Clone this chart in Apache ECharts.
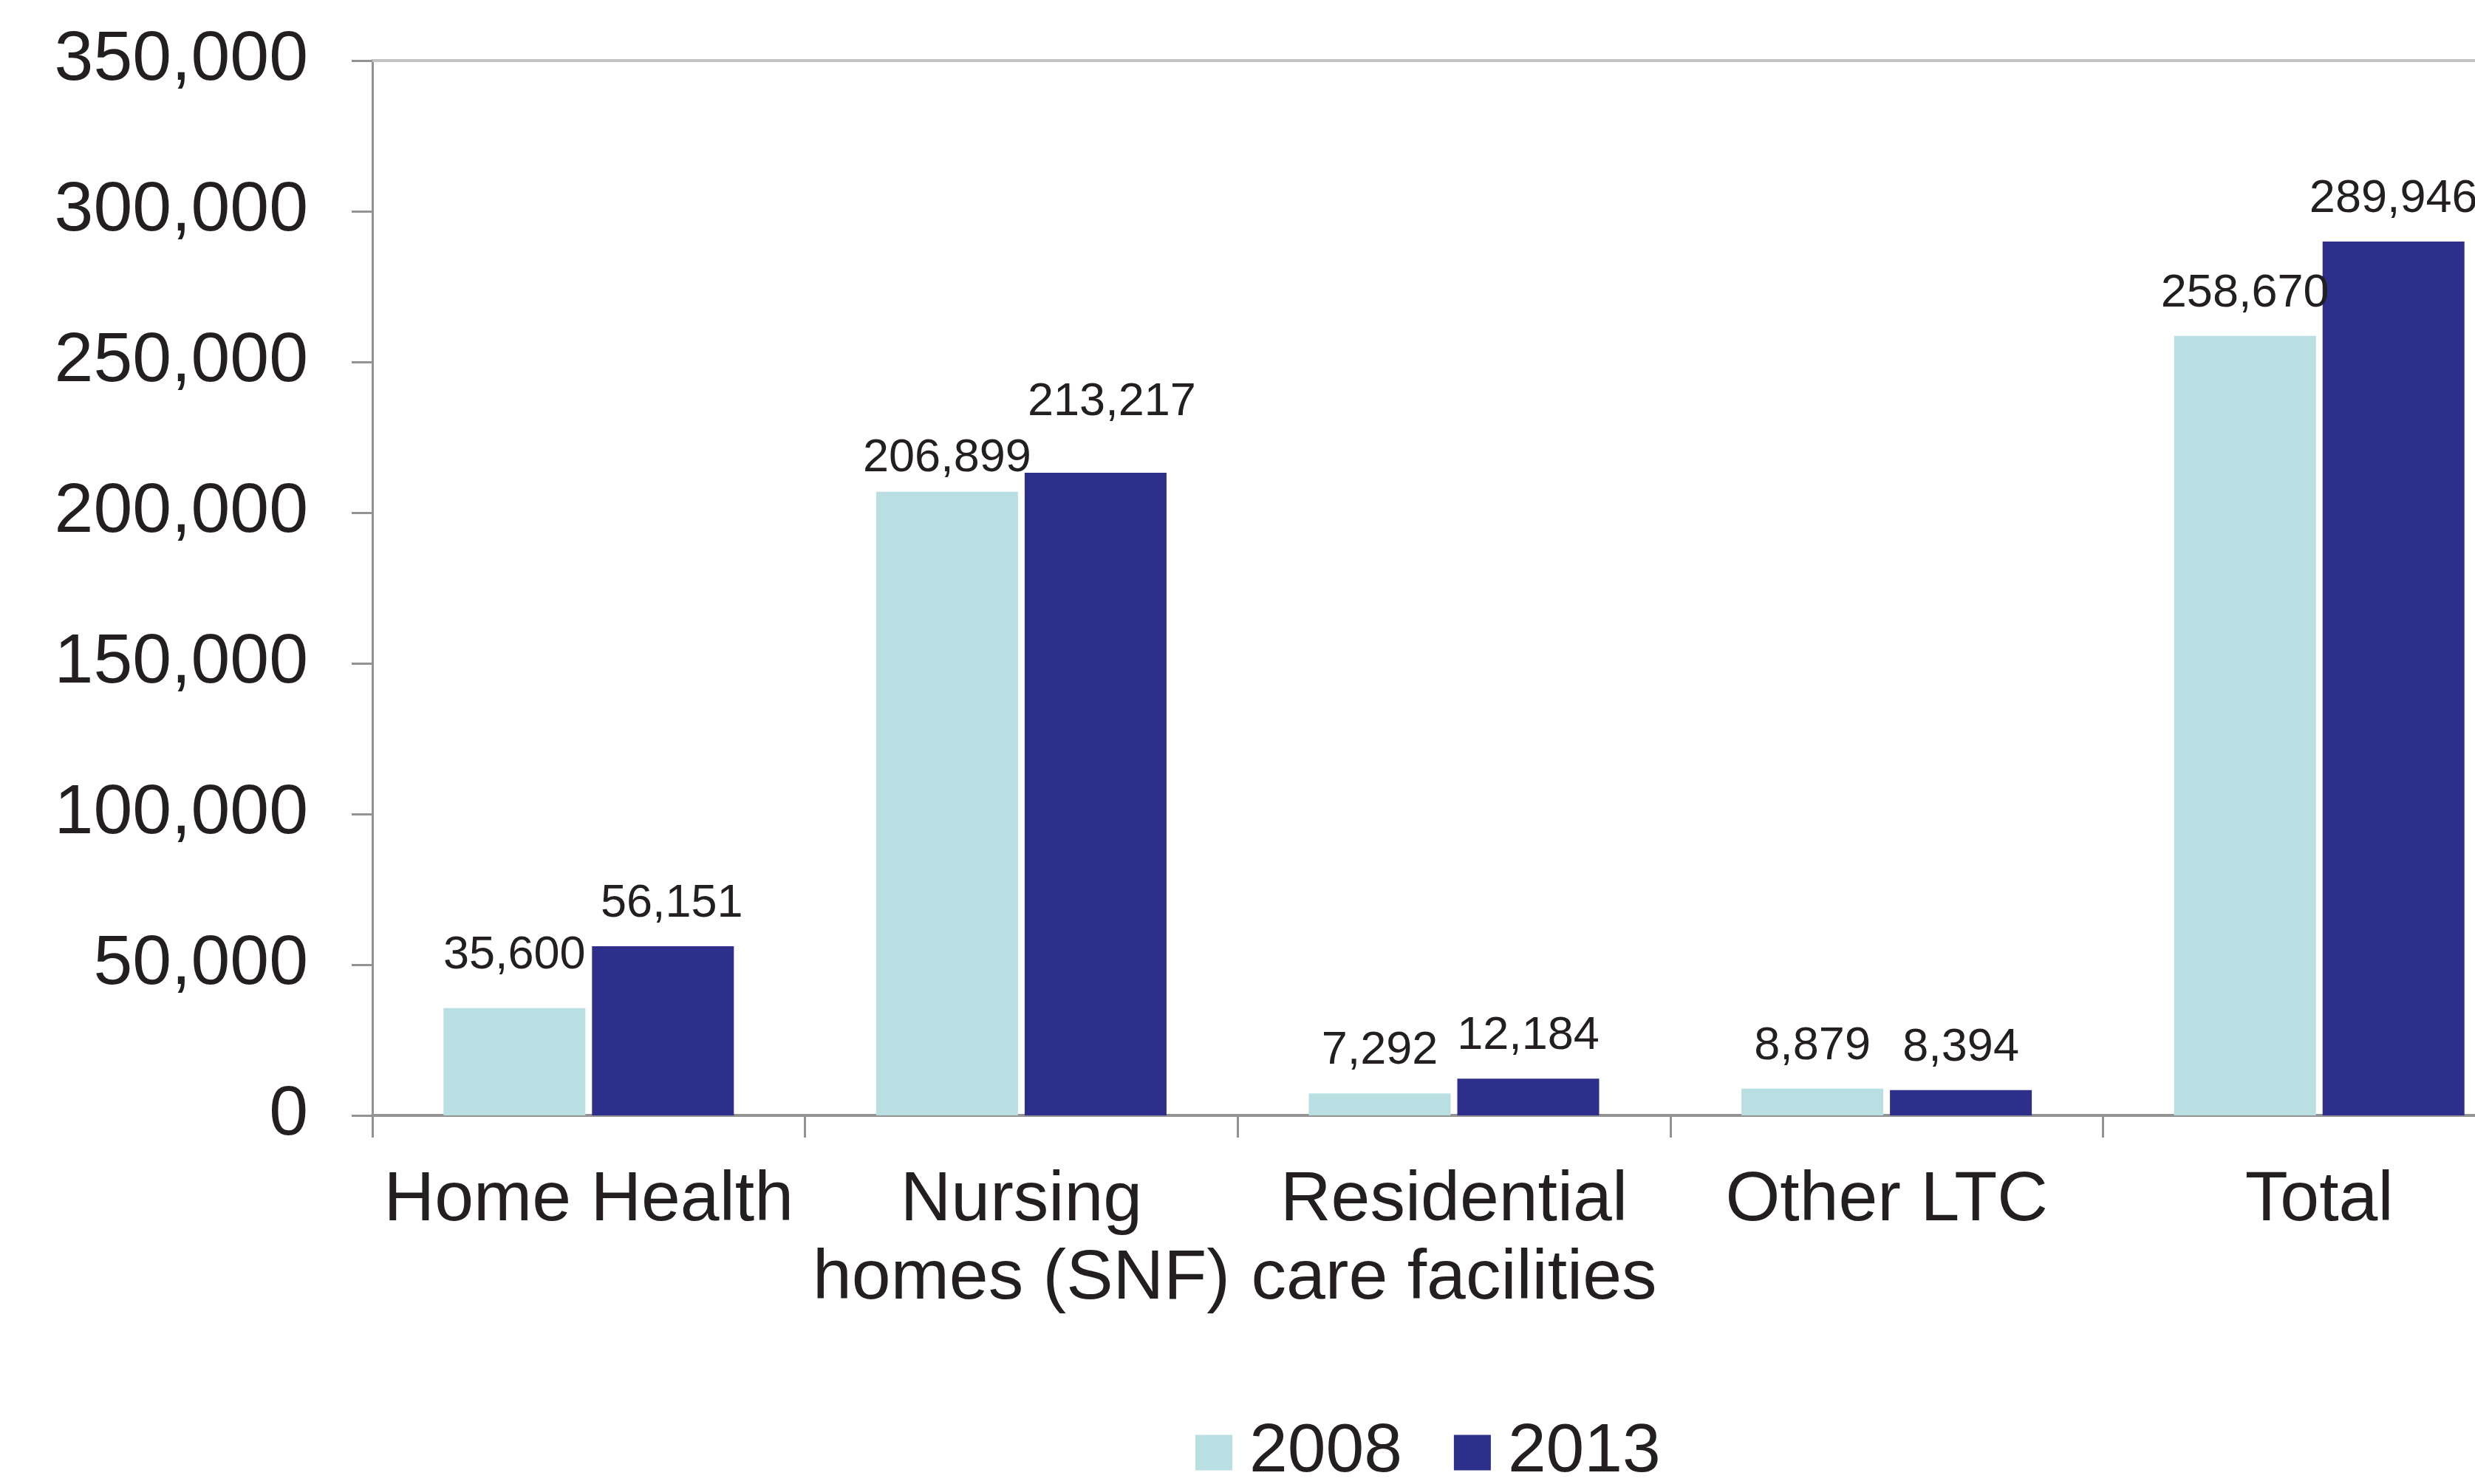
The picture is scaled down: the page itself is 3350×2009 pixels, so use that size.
<!DOCTYPE html>
<html>
<head>
<meta charset="utf-8">
<script src="https://cdn.jsdelivr.net/npm/echarts@6/dist/echarts.min.js"></script>
<style>
  html, body { margin: 0; padding: 0; background: #ffffff; }
  #chart { width: 3350px; height: 2009px; }
</style>
</head>
<body>
<div id="chart"></div>
<script>
// Long-term care workforce by setting, 2008 vs 2013
const categories = ['Home Health', 'Nursing\nhomes (SNF)', 'Residential\ncare facilities', 'Other LTC', 'Total'];
const seriesNames = ['2008', '2013'];
const values2008 = [35600, 206899, 7292, 8879, 258670];
const values2013 = [56151, 213217, 12184, 8394, 289946];
const yMin = 0;
const yMax = 350000;
const yStep = 50000;

// Hand-placed label nudges [dx, dy] so neighbouring value labels don't collide
const labelNudge2008 = [[0, -14], [0, 12], [0, 0], [0, 0], [0, 0]];
const labelNudge2013 = [[12, 0], [22, -38], [0, 0], [0, 0], [0, 0]];

const FONT = "'Liberation Sans', Arial, Helvetica, sans-serif";
const TEXT = '#231f20';
const LIGHT = '#b9dfe2';
const DARK = '#2d2f8a';
const AXIS = '#939393';

const fmt = v => Number(v).toLocaleString('en-US');

function toItems(values, nudges) {
  return values.map((v, i) => ({
    value: v,
    label: { offset: nudges[i] }
  }));
}

const barLabel = {
  show: true,
  position: 'top',
  distance: 26,
  color: TEXT,
  fontFamily: FONT,
  fontSize: 63,
  formatter: p => fmt(p.value)
};

const chart = echarts.init(document.getElementById('chart'), null, { renderer: 'canvas' });

chart.setOption({
  backgroundColor: '#ffffff',
  animation: false,
  // plot area runs past the right edge of the page, so the last bar is cut
  grid: {
    left: 504, top: 82, width: 2928, height: 1428,
    containLabel: false,
    outerBoundsMode: 'none'
  },
  legend: {
    data: seriesNames,
    left: 1613,
    top: 1915,
    icon: 'rect',
    itemWidth: 50,
    itemHeight: 48,
    itemGap: 70,
    textStyle: {
      color: TEXT,
      fontFamily: FONT,
      fontSize: 93,
      lineHeight: 48,
      padding: [0, 0, 0, 18]
    }
  },
  xAxis: [
    {
      type: 'category',
      data: categories,
      position: 'bottom',
      axisLine: { show: true, lineStyle: { color: AXIS, width: 4 } },
      axisTick: { show: true, length: 30, lineStyle: { color: AXIS, width: 3 } },
      axisLabel: {
        color: TEXT,
        fontFamily: FONT,
        fontSize: 95,
        lineHeight: 106,
        margin: 63,
        interval: 0
      },
      splitLine: { show: false }
    },
    {
      type: 'category',
      data: categories,
      position: 'top',
      axisLine: { show: true, lineStyle: { color: '#c3c3c3', width: 4 } },
      axisTick: { show: false },
      axisLabel: { show: false },
      splitLine: { show: false }
    }
  ],
  yAxis: {
    type: 'value',
    min: yMin,
    max: yMax,
    interval: yStep,
    axisLine: { show: true, lineStyle: { color: AXIS, width: 3 } },
    axisTick: { show: true, length: 28, lineStyle: { color: AXIS, width: 3 } },
    axisLabel: {
      color: TEXT,
      fontFamily: FONT,
      fontSize: 95,
      margin: 87,
      formatter: v => fmt(v)
    },
    splitLine: { show: false }
  },
  series: [
    {
      name: seriesNames[0],
      type: 'bar',
      xAxisIndex: 0,
      data: toItems(values2008, labelNudge2008),
      barWidth: 192,
      barGap: '4.7%',
      itemStyle: { color: LIGHT },
      label: barLabel
    },
    {
      name: seriesNames[1],
      type: 'bar',
      xAxisIndex: 0,
      data: toItems(values2013, labelNudge2013),
      barWidth: 192,
      barGap: '4.7%',
      itemStyle: { color: DARK },
      label: barLabel
    }
  ]
});
</script>
</body>
</html>
